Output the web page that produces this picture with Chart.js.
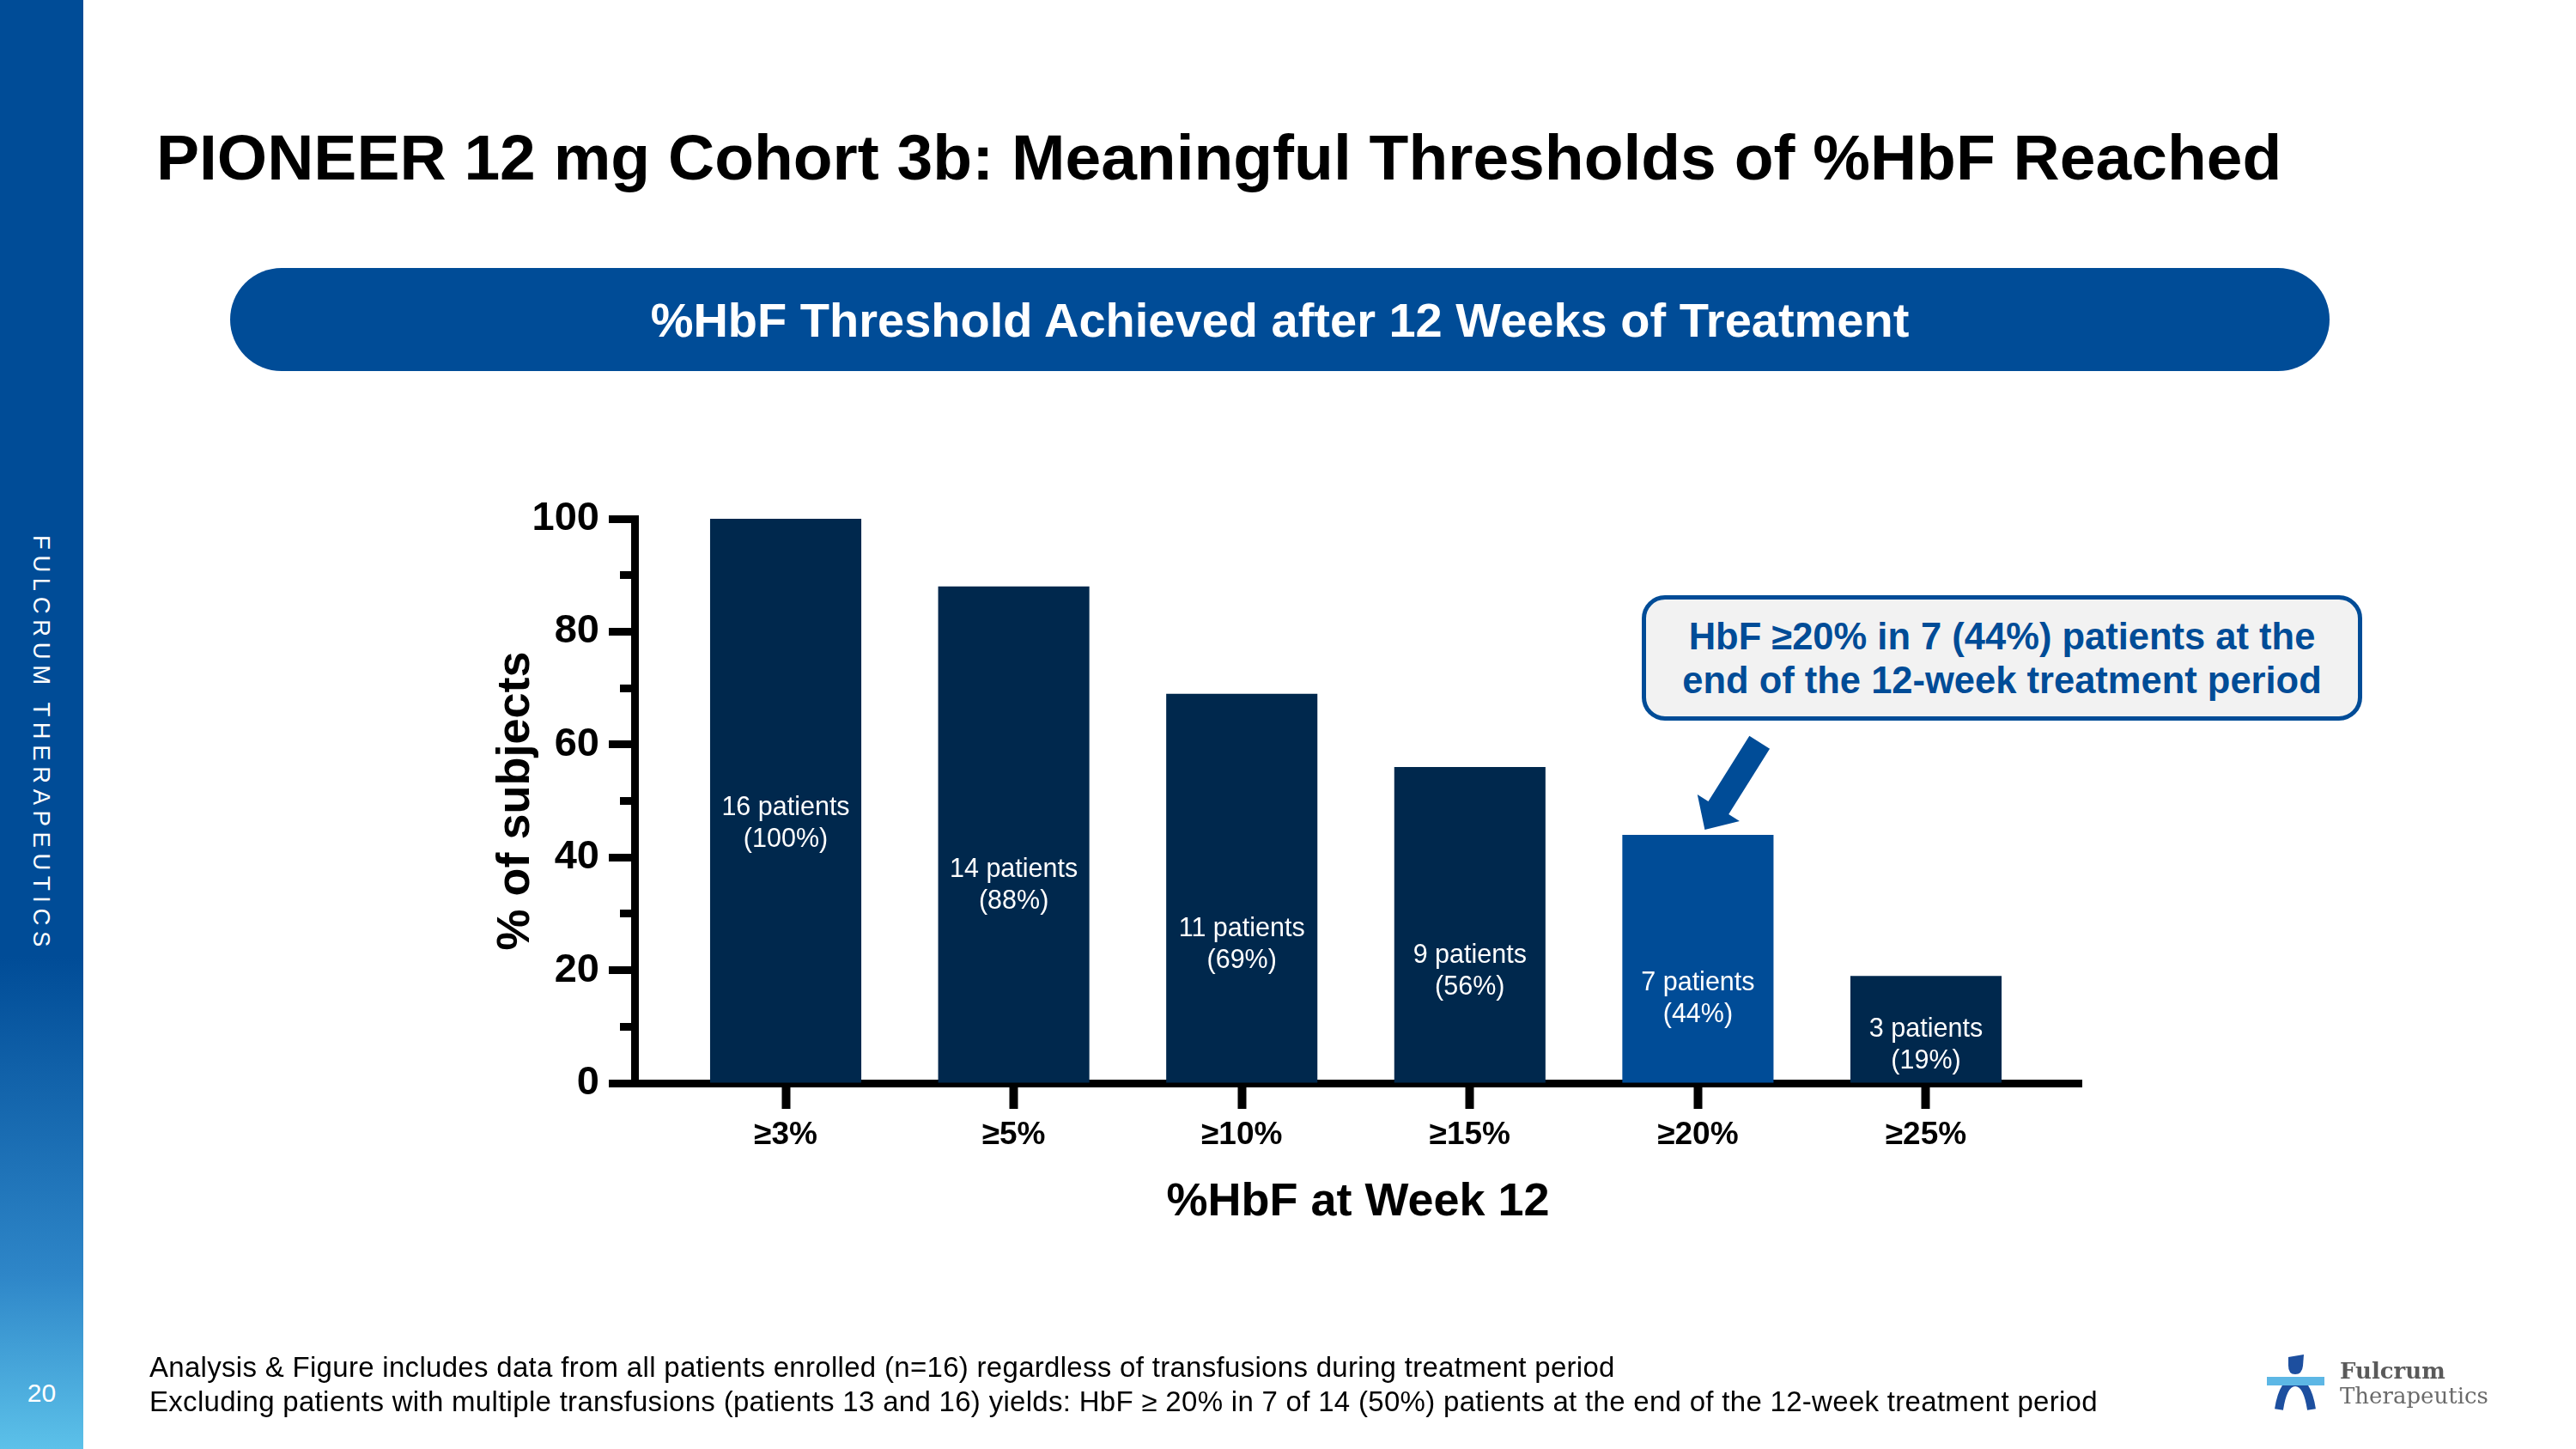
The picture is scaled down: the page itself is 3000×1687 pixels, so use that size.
<!DOCTYPE html>
<html><head><meta charset="utf-8">
<script src="https://cdn.jsdelivr.net/npm/chart.js@4.4.1/dist/chart.umd.min.js"></script>
<style>
html,body{margin:0;padding:0;width:3000px;height:1687px;overflow:hidden;background:#fff;font-family:"Liberation Sans",Arial,sans-serif;}
.abs{position:absolute;}
canvas{position:absolute;left:0;top:0;}
#sidebar{left:0;top:0;width:97px;height:1687px;background:linear-gradient(to bottom,#004C97 0%,#004C97 66%,#2E86C8 88%,#5CC1E9 100%);}
#brand{left:32px;top:623px;writing-mode:vertical-rl;font-size:27.5px;letter-spacing:6.6px;color:#fff;line-height:33px;white-space:nowrap;}
#pagenum{left:0;width:97px;top:1607px;text-align:center;color:#fff;font-size:30px;line-height:30px;}
#title{left:182px;top:146px;font-size:75px;line-height:75px;font-weight:bold;color:#000;white-space:nowrap;}
#banner{left:268px;top:312px;width:2445px;height:120px;border-radius:60px;background:#004C97;color:#fff;font-size:56px;font-weight:bold;display:flex;align-items:center;justify-content:center;white-space:nowrap;}
#callout{left:1912px;top:693px;width:839px;height:146px;box-sizing:border-box;border:5px solid #004C97;border-radius:27px;background:#F2F2F2;color:#004C97;font-size:43.5px;font-weight:bold;line-height:51px;text-align:center;padding-top:18px;white-space:nowrap;}
.foot{left:174px;font-size:33px;line-height:33px;letter-spacing:0.3px;color:#000;white-space:nowrap;}
</style></head>
<body>
<canvas id="c" width="3000" height="1687"></canvas>
<div id="sidebar" class="abs"></div>
<div id="brand" class="abs">FULCRUM THERAPEUTICS</div>
<div id="pagenum" class="abs">20</div>
<div id="title" class="abs">PIONEER 12 mg Cohort 3b: Meaningful Thresholds of %HbF Reached</div>
<div id="banner" class="abs">%HbF Threshold Achieved after 12 Weeks of Treatment</div>
<div id="callout" class="abs">HbF ≥20% in 7 (44%) patients at the<br>end of the 12-week treatment period</div>
<div class="abs foot" style="top:1575px">Analysis &amp; Figure includes data from all patients enrolled (n=16) regardless of transfusions during treatment period</div>
<div class="abs foot" style="top:1615px">Excluding patients with multiple transfusions (patients 13 and 16) yields: HbF ≥ 20% in 7 of 14 (50%) patients at the end of the 12-week treatment period</div>
<svg class="abs" style="left:2630px;top:1570px" width="300" height="90" viewBox="2630 1570 300 90">
  <path d="M2665,1580 L2683,1577 L2682,1590 Q2681,1600 2673,1600 Q2665,1600 2665,1590 Z" fill="#1D4F9F"/>
  <path d="M2654,1641 Q2659,1609 2673,1609 Q2687,1609 2692,1641" fill="none" stroke="#1D4F9F" stroke-width="10"/>
  <rect x="2640" y="1603" width="67" height="10" fill="#5DB7E5"/>
  <text x="2725" y="1605" font-family="DejaVu Serif" font-weight="bold" font-size="26" fill="#5A5A5A">Fulcrum</text>
  <text x="2725" y="1634" font-family="DejaVu Serif" font-size="26" fill="#6A6A6A">Therapeutics</text>
</svg>
<script>
// ---- data ----
const categories = ['≥3%', '≥5%', '≥10%', '≥15%', '≥20%', '≥25%'];
const percentOfSubjects = [100, 88, 69, 56, 44, 19];
const patientCounts = [16, 14, 11, 9, 7, 3];
const yTickValues = [0, 20, 40, 60, 80, 100];
const highlightIndex = 4;
const xAxisTitle = '%HbF at Week 12';
const yAxisTitle = '% of subjects';

// ---- styling / layout ----
const NAVY = '#00284D', BLUE = '#004C97';
const labelLevels = [47.5, 36.5, 26, 21.3, 16.4, 8.2]; // where the in-bar labels sit (axis units)
Chart.defaults.font.family = '"Liberation Sans", Arial, sans-serif';
Chart.defaults.color = '#000';

const barLabels = {
  id: 'barLabels',
  afterDatasetsDraw(chart) {
    const {ctx} = chart, ys = chart.scales.y;
    const meta = chart.getDatasetMeta(0);
    ctx.save();
    ctx.fillStyle = '#fff';
    ctx.font = '30.5px "Liberation Sans", Arial, sans-serif';
    ctx.textAlign = 'center';
    ctx.textBaseline = 'alphabetic';
    meta.data.forEach((bar, i) => {
      const y = ys.getPixelForValue(labelLevels[i]);
      ctx.fillText(patientCounts[i] + ' patients', bar.x, y);
      ctx.fillText('(' + percentOfSubjects[i] + '%)', bar.x, y + 37);
    });
    ctx.restore();
  }
};

const arrow = {
  id: 'arrow',
  afterDraw(chart) {
    const {ctx} = chart;
    const bar = chart.getDatasetMeta(0).data[highlightIndex];
    const tx = bar.x + 8, ty = bar.y - 6;
    const ux = 0.5315, uy = -0.847, nx = 0.847, ny = 0.5315;
    const L = 120, H = 30, hw = 29, sw = 14;
    const P = (a, b) => [tx + ux * a + nx * b, ty + uy * a + ny * b];
    const pts = [P(0, 0), P(H, -hw), P(H, -sw), P(L, -sw), P(L, sw), P(H, sw), P(H, hw)];
    ctx.save();
    ctx.beginPath();
    ctx.moveTo(pts[0][0], pts[0][1]);
    pts.slice(1).forEach(p => ctx.lineTo(p[0], p[1]));
    ctx.closePath();
    ctx.fillStyle = BLUE;
    ctx.fill();
    ctx.restore();
  }
};

new Chart(document.getElementById('c'), {
  type: 'bar',
  data: {
    datasets: [{
      data: categories.map((c, i) => ({x: i, y: percentOfSubjects[i]})),
      backgroundColor: categories.map((c, i) => i === highlightIndex ? BLUE : NAVY),
      borderWidth: 0,
      categoryPercentage: 0.663,
      barPercentage: 1
    }]
  },
  options: {
    responsive: false,
    devicePixelRatio: 1,
    animation: false,
    layout: {padding: {left: 569, right: 576, top: 604, bottom: 254}},
    plugins: {legend: {display: false}, tooltip: {enabled: false}},
    scales: {
      x: {
        type: 'linear', min: -0.6627, max: 5.6815, offset: false,
        afterBuildTicks: s => { s.ticks = categories.map((c, i) => ({value: i})); },
        afterFit: s => { s.height = 172; },
        ticks: {autoSkip: false, maxRotation: 0, padding: 9, font: {size: 37, weight: 'bold'}, color: '#000',
                callback: v => categories[v]},
        grid: {offset: false, drawOnChartArea: false, tickLength: 30, tickWidth: 10, tickColor: '#000'},
        border: {display: true, width: 9, color: '#000'},
        title: {display: true, text: xAxisTitle, font: {size: 54, weight: 'bold'}, color: '#000', padding: 0}
      },
      y: {
        min: 0, max: 100,
        afterFit: s => { s.width = 170; },
        ticks: {stepSize: 10, autoSkip: false, padding: 11, font: {size: 47, weight: 'bold'}, color: '#000',
                callback: v => yTickValues.includes(v) ? String(v) : ''},
        grid: {drawOnChartArea: false, tickLength: 30, tickWidth: 9, tickColor: '#000',
               tickBorderDash: ctx => yTickValues.includes(ctx.tick.value) ? [] : [0, 13, 60]},
        border: {display: true, width: 9, color: '#000'},
        title: {display: true, text: yAxisTitle, font: {size: 54, weight: 'bold'}, color: '#000', padding: 0}
      }
    }
  },
  plugins: [barLabels, arrow]
});
</script>
</body></html>
